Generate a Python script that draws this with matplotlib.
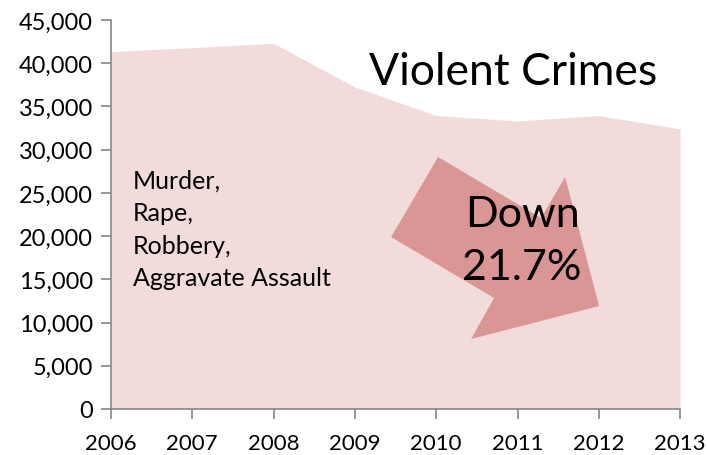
import matplotlib
matplotlib.use('Agg')
import matplotlib.pyplot as plt
from matplotlib.patches import Polygon
from matplotlib.ticker import FuncFormatter

# Violent crimes per year
years = [2006, 2007, 2008, 2009, 2010, 2011, 2012, 2013]
crimes = [41350, 41800, 42300, 37250, 33950, 33320, 33950, 32400]

plt.rcParams['font.family'] = ['Lato', 'DejaVu Sans']

fig = plt.figure(figsize=(7.07, 4.56), dpi=100)
ax = fig.add_axes([0.157, 0.1009, 0.805, 0.853])

ax.fill_between(years, crimes, 0, color='#F2DCDB', linewidth=0)

ax.set_xlim(2006, 2013)
ax.set_ylim(0, 45000)
ax.set_xticks(years)
ax.set_yticks(range(0, 45001, 5000))
ax.yaxis.set_major_formatter(FuncFormatter(lambda v, p: f'{int(v):,}'))

for s in ['top', 'right']:
    ax.spines[s].set_visible(False)
for s in ['left', 'bottom']:
    ax.spines[s].set_color('#868686')
    ax.spines[s].set_linewidth(1.2)
ax.tick_params(axis='both', colors='#868686', length=7, width=1.2,
               labelcolor='black')
ax.tick_params(axis='y', labelsize=17, pad=6)
ax.tick_params(axis='x', labelsize=16, pad=10)

# big arrow, in axes fractions
arrow = Polygon([(0.5747, 0.6478), (0.7557, 0.4910), (0.7979, 0.5964),
                 (0.8576, 0.2648), (0.6327, 0.1799), (0.6731, 0.2853),
                 (0.4921, 0.4422)], closed=True, transform=ax.transAxes,
                facecolor='#D99694', edgecolor='none')
ax.add_patch(arrow)

ax.text(0.4535, 0.835, 'Violent Crimes', transform=ax.transAxes,
        fontsize=32, ha='left', va='baseline')
ax.text(0.038, 0.618, 'Murder,\nRape,\nRobbery,\nAggravate Assault',
        transform=ax.transAxes, fontsize=18, ha='left', va='top',
        linespacing=1.5)
ax.text(0.7223, 0.501, 'Down', transform=ax.transAxes,
        fontsize=31, ha='center', va='center')
ax.text(0.7223, 0.365, '21.7%', transform=ax.transAxes,
        fontsize=31, ha='center', va='center')

fig.savefig('out.png', dpi=100)
